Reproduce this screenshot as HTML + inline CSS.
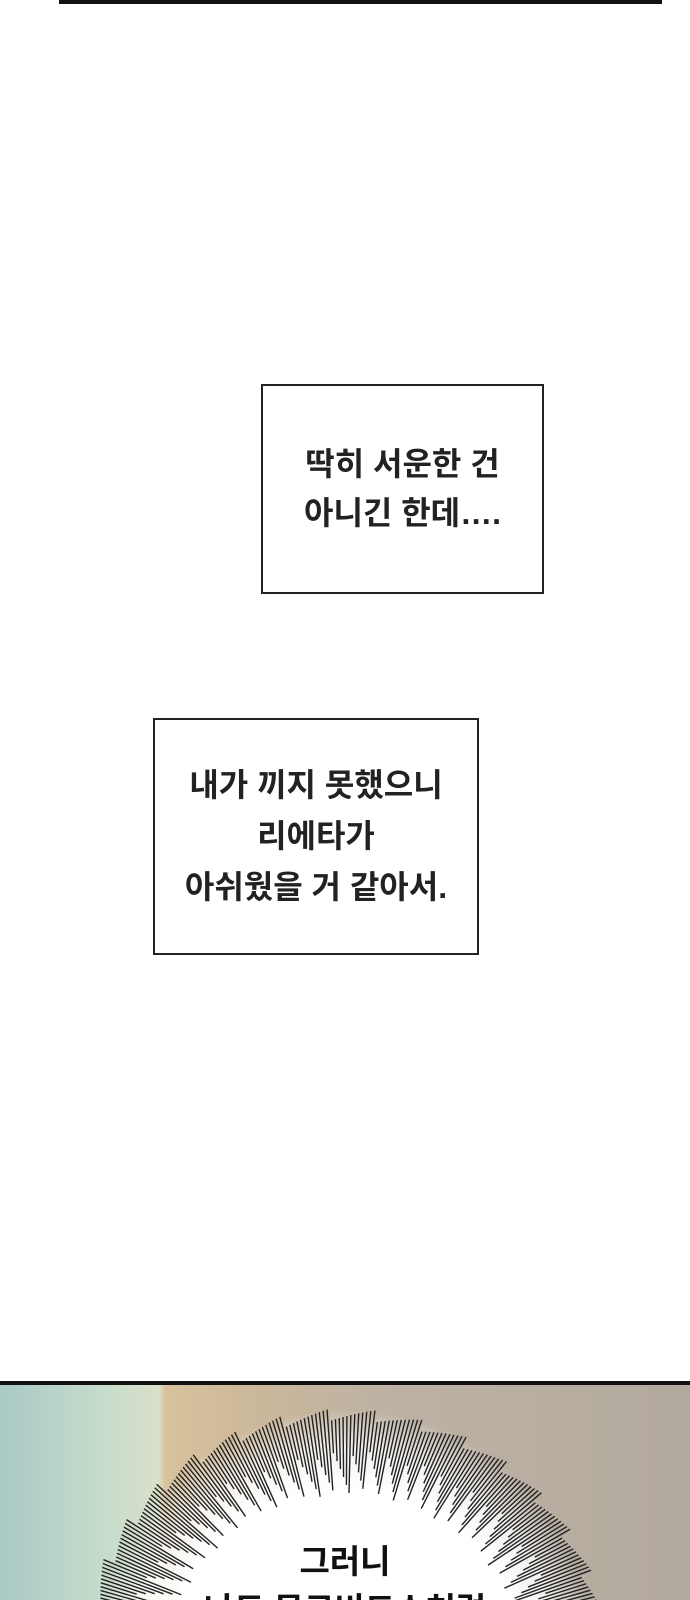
<!DOCTYPE html>
<html><head><meta charset="utf-8"><style>
html,body{margin:0;width:690px;height:1600px;overflow:hidden;}
body{background:#fff;position:relative;font-family:"Liberation Sans","Noto Sans CJK KR",sans-serif;}
.box{position:absolute;border:2px solid #222;background:#fff;box-sizing:border-box;text-align:center;color:#222;font-size:32px;font-weight:bold;}
.box div{position:absolute;left:0;right:0;line-height:40px;}
</style></head><body>
<div style="position:absolute;left:59px;top:0;width:603px;height:4px;background:#111"></div>
<div class="box" style="left:261px;top:384px;width:283px;height:210px">
<div style="top:58px">딱히 서운한 건</div><div style="top:107px">아니긴 한데….</div></div>
<div class="box" style="left:153px;top:718px;width:326px;height:237px">
<div style="top:45px">내가 끼지 못했으니</div><div style="top:96px">리에타가</div><div style="top:147px">아쉬웠을 거 같아서.</div></div>
<div style="position:absolute;left:0;top:1381px;width:690px;height:219px;background:linear-gradient(90deg,#a9c9c6 0%,#c6dccb 15%,#d9e0c9 23%,#d8c29c 24%,#cdb89a 35%,#bdb2a4 55%,#b2a99e 100%);border-top:4px solid #111"></div>
<svg style="position:absolute;left:0;top:0" width="690" height="1600">
<defs><radialGradient id="g" cx="345" cy="1660" r="250" gradientUnits="userSpaceOnUse"><stop offset="0.7" stop-color="#fff"/><stop offset="0.85" stop-color="#fff" stop-opacity="0.8"/><stop offset="1" stop-color="#fff" stop-opacity="0"/></radialGradient></defs>
<ellipse cx="345" cy="1660" rx="260" ry="250" fill="url(#g)"/>
<g stroke="#222" stroke-width="1.4" id="rays"></g>
</svg>
<script>
var g=document.getElementById('rays'),s='';
for(var i=0;i<200;i++){var a=Math.PI*1.02+i*Math.PI*0.96/199;var r1=165+((i*37)%45),r2=240+((i*13)%12);
var cx=345,cy=1660;s+='<line x1="'+(cx+Math.cos(a)*r1*1.05)+'" y1="'+(cy+Math.sin(a)*r1)+'" x2="'+(cx+Math.cos(a)*r2*1.05)+'" y2="'+(cy+Math.sin(a)*r2)+'"/>';}
g.innerHTML=s;
</script>
<div style="position:absolute;left:0;width:690px;top:1542px;text-align:center;font-size:33px;line-height:40px;font-weight:bold;color:#111">그러니</div>
<div style="position:absolute;left:0;width:690px;top:1590px;height:10px;overflow:visible;text-align:center;font-size:33px;line-height:40px;font-weight:bold;color:#111">나도 무르비드스처럼</div>
</body></html>
